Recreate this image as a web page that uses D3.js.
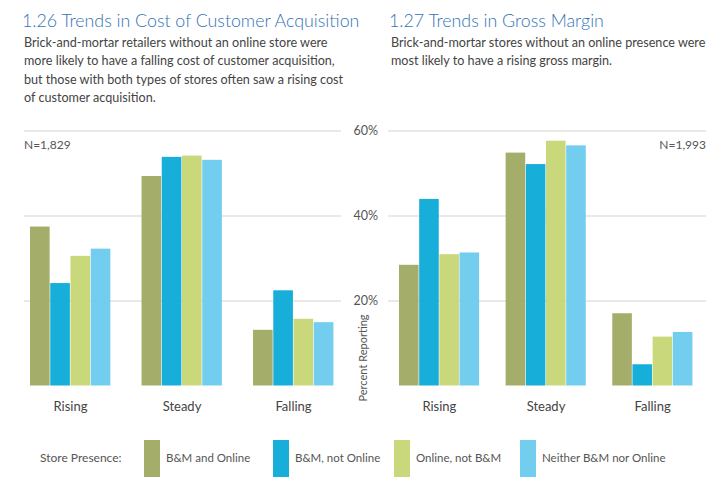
<!DOCTYPE html>
<html>
<head>
<meta charset="utf-8">
<script src="https://cdn.jsdelivr.net/npm/d3@7"></script>
<style>
  body { margin: 0; background: #fff; }
  svg { display: block; font-family: 'Lato', sans-serif; }
</style>
</head>
<body>
<div id="chart"></div>
<script>
// data
let categories = ['Rising', 'Steady', 'Falling'];
let seriesNames = ['B&M and Online', 'B&M, not Online', 'Online, not B&M', 'Neither B&M nor Online'];
let seriesColors = ['#a4ae6a', '#17aed9', '#c9d87a', '#72cdee'];
// cost of customer acquisition, one array per series (Rising, Steady, Falling)
let costBothValues = [37.4, 49.3, 13.1];
let costBMOnlyValues = [24.1, 53.8, 22.4];
let costOnlineOnlyValues = [30.5, 54.1, 15.7];
let costNeitherValues = [32.2, 53.1, 14.9];
// gross margin
let marginBothValues = [28.4, 54.8, 17.0];
let marginBMOnlyValues = [43.9, 52.1, 5.0];
let marginOnlineOnlyValues = [30.9, 57.6, 11.5];
let marginNeitherValues = [31.3, 56.5, 12.6];
let yTicks = [20, 40, 60];

let width = 722, height = 497;
let svg = d3.select('#chart').append('svg')
	.attr('width', width)
	.attr('height', height);

let yScale = d3.scaleLinear().domain([0, 60]).range([385.5, 130.5]);

function drawPanel(opts) {
	let g = svg.append('g');
	let rows = categories.map((c, i) => ({
		key: c,
		values: opts.series.map((s, j) => ({ name: seriesNames[j], value: s[i] }))
	}));

	// grid lines + (optional) tick labels
	let axis = d3.axisLeft(yScale)
		.tickValues(yTicks)
		.tickSize(-(opts.gridRight - opts.gridLeft))
		.tickPadding(10)
		.tickFormat(d => opts.showLabels ? d + '%' : '');
	let ya = g.append('g')
		.attr('transform', 'translate(' + opts.gridLeft + ',0)')
		.call(axis);
	ya.select('.domain').remove();
	ya.selectAll('line').attr('stroke', '#e2e2e2').attr('stroke-width', 1.5);
	ya.selectAll('text').attr('fill', '#555').attr('font-size', 12.5).attr('font-family', 'Lato, sans-serif');

	let x0 = d3.scaleBand().domain(categories).range(opts.barRange).paddingInner(opts.padInner).paddingOuter(0);
	let x1 = d3.scaleBand().domain(seriesNames).range([0, x0.bandwidth()]).padding(0);

	let groups = g.selectAll('.grp')
		.data(rows)
		.enter().append('g')
		.attr('transform', d => 'translate(' + x0(d.key) + ',0)');
	groups.selectAll('rect')
		.data(d => d.values)
		.enter().append('rect')
		.attr('x', d => x1(d.name))
		.attr('width', x1.bandwidth() - 0.6)
		.attr('y', d => yScale(d.value))
		.attr('height', d => yScale(0) - yScale(d.value))
		.attr('fill', (d, i) => seriesColors[i]);

	// category labels
	let xa = g.append('g')
		.attr('transform', 'translate(0,' + yScale(0) + ')')
		.call(d3.axisBottom(x0).tickSize(0).tickPadding(16));
	xa.select('.domain').remove();
	xa.selectAll('text').attr('fill', '#444').attr('font-size', 13).attr('font-family', 'Lato, sans-serif');

	// titles
	svg.append('text')
		.attr('x', opts.titleX).attr('y', 27)
		.attr('fill', '#3274b6')
		.attr('font-size', 17.8)
		.attr('font-weight', 300)
		.text(opts.title);
	svg.append('text')
		.attr('x', opts.titleX + 2).attr('y', 47)
		.attr('fill', '#444')
		.attr('font-size', 12.6)
		.selectAll('tspan')
		.data(opts.subtitle)
		.enter().append('tspan')
		.attr('x', opts.titleX + 2)
		.attr('dy', (d, i) => i ? 18.3 : 0)
		.text(d => d);

	svg.append('text')
		.attr('x', opts.nX).attr('y', 149)
		.attr('text-anchor', opts.nAnchor)
		.attr('fill', '#555')
		.attr('font-size', 12)
		.text(opts.nLabel);
}

drawPanel({
	series: [costBothValues, costBMOnlyValues, costOnlineOnlyValues, costNeitherValues],
	gridLeft: 24, gridRight: 341,
	barRange: [30, 334], padInner: 0.274,
	showLabels: false,
	title: '1.26 Trends in Cost of Customer Acquisition',
	titleX: 22,
	subtitle: ['Brick-and-mortar retailers without an online store were',
		'more likely to have a falling cost of customer acquisition,',
		'but those with both types of stores often saw a rising cost',
		'of customer acquisition.'],
	nX: 24, nAnchor: 'start', nLabel: 'N=1,829'
});

drawPanel({
	series: [marginBothValues, marginBMOnlyValues, marginOnlineOnlyValues, marginNeitherValues],
	gridLeft: 388, gridRight: 706,
	barRange: [399, 693], padInner: 0.243,
	showLabels: true,
	title: '1.27 Trends in Gross Margin',
	titleX: 389,
	subtitle: ['Brick-and-mortar stores without an online presence were',
		'most likely to have a rising gross margin.'],
	nX: 706, nAnchor: 'end', nLabel: 'N=1,993'
});

// y axis title
svg.append('text')
	.attr('transform', 'translate(367,358) rotate(-90)')
	.attr('text-anchor', 'middle')
	.attr('fill', '#555')
	.attr('font-size', 11)
	.text('Percent Reporting');

// legend
let legend = svg.append('g');
legend.append('text')
	.attr('x', 40).attr('y', 462)
	.attr('fill', '#555')
	.attr('font-size', 12)
	.text('Store Presence:');
let legendX = [144, 273, 394, 520];
let items = legend.selectAll('.item')
	.data(seriesNames)
	.enter().append('g')
	.attr('transform', (d, i) => 'translate(' + legendX[i] + ',440)');
items.append('rect')
	.attr('width', 16).attr('height', 37)
	.attr('fill', (d, i) => seriesColors[i]);
items.append('text')
	.attr('x', 22).attr('y', 22)
	.attr('fill', '#555')
	.attr('font-size', 11.5)
	.text(d => d);
</script>
</body>
</html>
